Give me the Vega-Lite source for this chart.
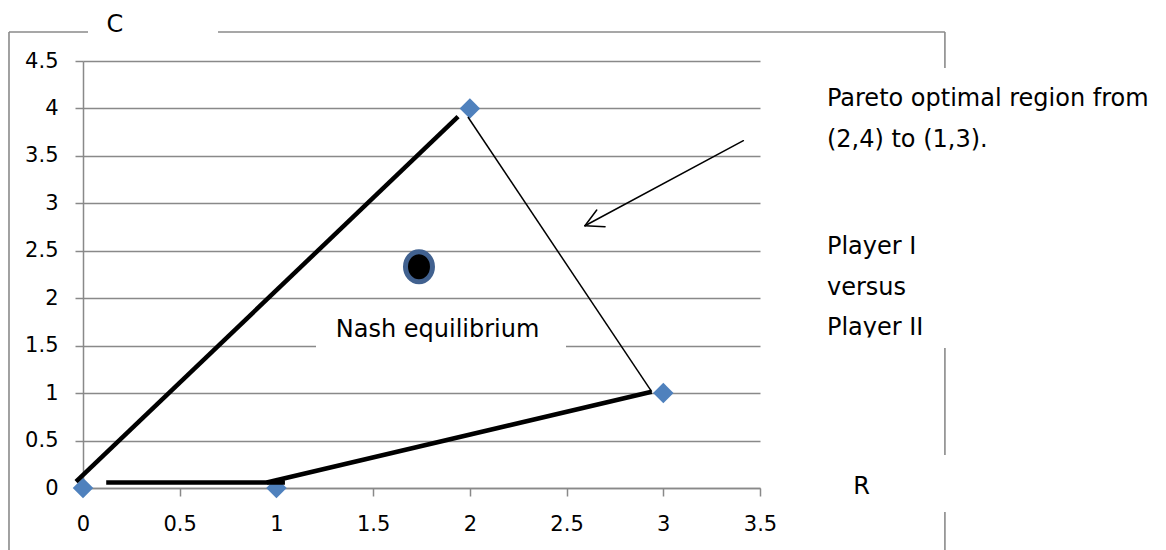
{
  "$schema": "https://vega.github.io/schema/vega-lite/v6.json",
  "width": 677,
  "height": 427,
  "autosize": {"type": "none"},
  "padding": {"left": 83, "top": 61, "right": 406, "bottom": 62},
  "background": "white",
  "config": {
    "view": {"stroke": null},
    "font": "DejaVu Sans",
    "axis": {
      "labelFont": "DejaVu Sans",
      "labelFontSize": 21,
      "labelColor": "#000000",
      "domainColor": "#898989",
      "domainWidth": 1.5,
      "tickColor": "#898989",
      "tickWidth": 1.5,
      "tickSize": 8,
      "gridColor": "#898989",
      "gridWidth": 1.5,
      "gridOpacity": 1,
      "title": null
    }
  },
  "datasets": {
    "points": [
      {"R": 0, "C": 0},
      {"R": 1, "C": 0},
      {"R": 2, "C": 4},
      {"R": 3, "C": 1}
    ],
    "thick": [
      {"x": -0.036, "y": 0.066, "x2": 1.939, "y2": 3.913},
      {"x": 0.12, "y": 0.058, "x2": 1.044, "y2": 0.058},
      {"x": 0.95, "y": 0.058, "x2": 2.94, "y2": 1.015}
    ],
    "thin": [
      {"x": 1.99, "y": 3.91, "x2": 2.94, "y2": 1.015}
    ],
    "arrow": [
      {"x": 3.414, "y": 3.66, "x2": 2.595, "y2": 2.764},
      {"x": 2.595, "y": 2.764, "x2": 2.699, "y2": 2.754},
      {"x": 2.595, "y": 2.764, "x2": 2.656, "y2": 2.93}
    ],
    "frame": [
      {"x": -0.3826, "y": 4.806, "x2": 0.026, "y2": 4.806},
      {"x": 0.698, "y": 4.806, "x2": 4.456, "y2": 4.806},
      {"x": -0.3826, "y": 4.806, "x2": -0.3826, "y2": -0.8},
      {"x": 4.456, "y": 4.806, "x2": 4.456, "y2": 4.426},
      {"x": 4.456, "y": 1.475, "x2": 4.456, "y2": 0.348},
      {"x": 4.456, "y": -0.253, "x2": 4.456, "y2": -0.8}
    ],
    "nash": [
      {"x": 1.737, "y": 2.332}
    ],
    "nashbox": [
      {"x": 1.2046, "y": 1.929, "x2": 2.497, "y2": 1.349}
    ],
    "textclip": [
      {"x": 3.81, "y": 1.586, "x2": 4.43, "y2": 1.496}
    ],
    "centerLabels": [
      {"x": 0.165, "y": 4.806, "text": "C"},
      {"x": 4.025, "y": -0.063, "text": "R"},
      {"x": 1.833, "y": 1.595, "text": "Nash equilibrium"}
    ],
    "leftLabels": [
      {"x": 3.846, "y": 4.026, "text": "Pareto optimal region from"},
      {"x": 3.846, "y": 3.597, "text": "(2,4) to (1,3)."},
      {"x": 3.846, "y": 2.466, "text": "Player I"},
      {"x": 3.846, "y": 2.034, "text": "versus"},
      {"x": 3.846, "y": 1.612, "text": "Player II"}
    ]
  },
  "layer": [
    {
      "data": {"name": "points"},
      "mark": {"type": "point", "shape": "diamond", "filled": true, "size": 420, "color": "#4F81BD", "opacity": 1},
      "encoding": {
        "x": {
          "field": "R", "type": "quantitative",
          "scale": {"domain": [0, 3.5], "nice": false, "zero": false},
          "axis": {"values": [0, 0.5, 1, 1.5, 2, 2.5, 3, 3.5], "format": "~g", "grid": false, "labelFontSize": 21, "labelPadding": 17, "labelFlush": false, "labelOverlap": false}
        },
        "y": {
          "field": "C", "type": "quantitative",
          "scale": {"domain": [0, 4.5], "nice": false, "zero": false},
          "axis": {"values": [0, 0.5, 1, 1.5, 2, 2.5, 3, 3.5, 4, 4.5], "format": "~g", "grid": true, "labelFontSize": 21, "labelPadding": 17, "labelFlush": false, "labelOverlap": false}
        }
      }
    },
    {
      "data": {"name": "nashbox"},
      "mark": {"type": "rect", "color": "white", "opacity": 1},
      "encoding": {
        "x": {"field": "x", "type": "quantitative"},
        "x2": {"field": "x2"},
        "y": {"field": "y", "type": "quantitative"},
        "y2": {"field": "y2"}
      }
    },
    {
      "data": {"name": "frame"},
      "mark": {"type": "rule", "color": "#8a8a8a", "strokeWidth": 1.6},
      "encoding": {
        "x": {"field": "x", "type": "quantitative"},
        "x2": {"field": "x2"},
        "y": {"field": "y", "type": "quantitative"},
        "y2": {"field": "y2"}
      }
    },
    {
      "data": {"name": "thick"},
      "mark": {"type": "rule", "color": "black", "strokeWidth": 4.5, "strokeCap": "butt"},
      "encoding": {
        "x": {"field": "x", "type": "quantitative"},
        "x2": {"field": "x2"},
        "y": {"field": "y", "type": "quantitative"},
        "y2": {"field": "y2"}
      }
    },
    {
      "data": {"name": "thin"},
      "mark": {"type": "rule", "color": "black", "strokeWidth": 1.5},
      "encoding": {
        "x": {"field": "x", "type": "quantitative"},
        "x2": {"field": "x2"},
        "y": {"field": "y", "type": "quantitative"},
        "y2": {"field": "y2"}
      }
    },
    {
      "data": {"name": "arrow"},
      "mark": {"type": "rule", "color": "black", "strokeWidth": 1.5, "strokeCap": "round"},
      "encoding": {
        "x": {"field": "x", "type": "quantitative"},
        "x2": {"field": "x2"},
        "y": {"field": "y", "type": "quantitative"},
        "y2": {"field": "y2"}
      }
    },
    {
      "data": {"name": "nash"},
      "mark": {
        "type": "point",
        "shape": "M0,-1C0.497,-1 0.9,-0.552 0.9,0C0.9,0.552 0.497,1 0,1C-0.497,1 -0.9,0.552 -0.9,0C-0.9,-0.552 -0.497,-1 0,-1Z",
        "size": 900, "filled": true, "fill": "black", "stroke": "#41618F", "strokeWidth": 5, "opacity": 1, "fillOpacity": 1, "strokeOpacity": 1
      },
      "encoding": {
        "x": {"field": "x", "type": "quantitative"},
        "y": {"field": "y", "type": "quantitative"}
      }
    },
    {
      "data": {"name": "centerLabels"},
      "mark": {"type": "text", "font": "DejaVu Sans", "fontSize": 24, "color": "black", "baseline": "alphabetic", "align": "center"},
      "encoding": {
        "x": {"field": "x", "type": "quantitative"},
        "y": {"field": "y", "type": "quantitative"},
        "text": {"field": "text"}
      }
    },
    {
      "data": {"name": "leftLabels"},
      "mark": {"type": "text", "font": "DejaVu Sans", "fontSize": 24, "color": "black", "baseline": "alphabetic", "align": "left"},
      "encoding": {
        "x": {"field": "x", "type": "quantitative"},
        "y": {"field": "y", "type": "quantitative"},
        "text": {"field": "text"}
      }
    },
    {
      "data": {"name": "textclip"},
      "mark": {"type": "rect", "color": "white", "opacity": 1},
      "encoding": {
        "x": {"field": "x", "type": "quantitative"},
        "x2": {"field": "x2"},
        "y": {"field": "y", "type": "quantitative"},
        "y2": {"field": "y2"}
      }
    }
  ]
}
